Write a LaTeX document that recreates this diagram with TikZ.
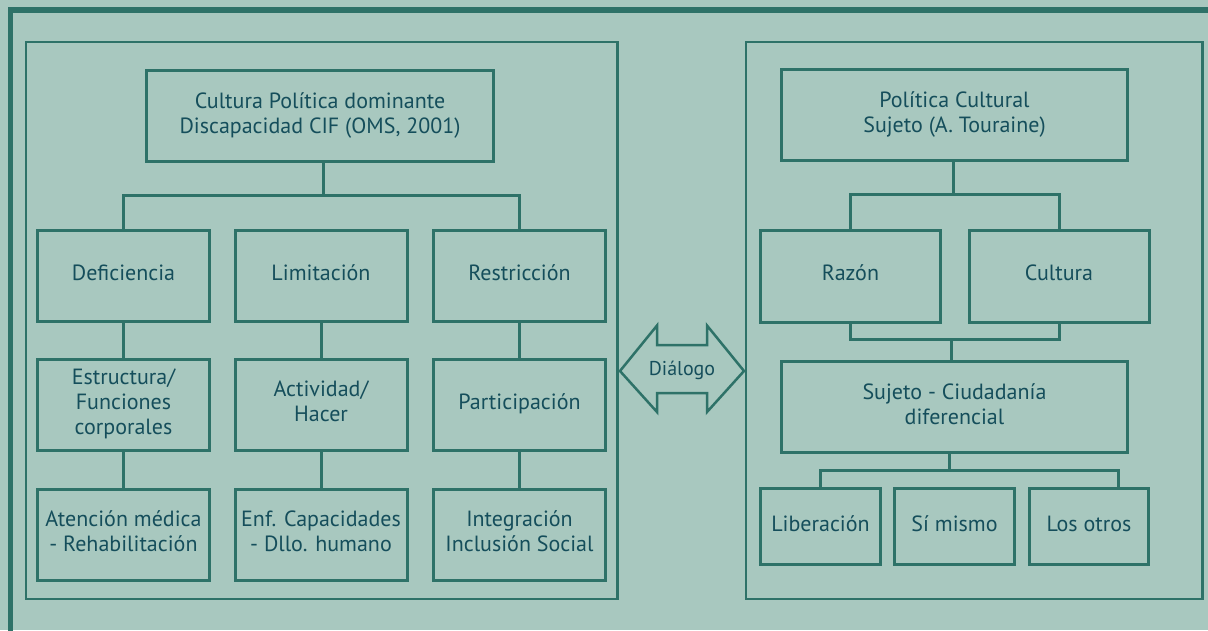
\documentclass[tikz,border=0pt]{standalone}
\usepackage{fontspec}
\setmainfont{PT Sans}
\usetikzlibrary{calc}
\definecolor{bgteal}{HTML}{A8C8BF}
\definecolor{lineteal}{HTML}{2E7268}
\definecolor{inkteal}{HTML}{154E5B}
\begin{document}
\begin{tikzpicture}[x=1pt,y=-1pt,
  box/.style={draw=lineteal,line width=3pt,rectangle,inner sep=0pt,outer sep=0pt,
    align=center,text=inkteal,font=\fontsize{22}{25}\selectfont,text depth=6pt,
    minimum width=172pt,minimum height=91pt},
  link/.style={draw=lineteal,line width=3pt},
  panel/.style={draw=lineteal,line width=2.5pt}]
% background and frame
\fill[bgteal] (0,0) rectangle (1208,630);
\useasboundingbox (0,0) rectangle (1208,630);
\draw[lineteal,line width=5.5pt] (10.5,640) -- (10.5,10) -- (1220,10);
\draw[panel] (26,42) rectangle (617.5,599);
\draw[panel] (746,42) rectangle (1202.5,599);

% left tree
\node[box,minimum width=347pt] (cpd) at (320,116) {Cultura Política dominante\\Discapacidad CIF (OMS, 2001)};
\node[box] (def) at (123.5,275.5) {Deficiencia};
\node[box] (lim) at (321,275.5) {Limitación};
\node[box] (res) at (519.5,275.5) {Restricción};
\node[box] (est) at (123.5,404.5) {Estructura/\\Funciones\\corporales};
\node[box] (act) at (321,404.5) {Actividad/\\Hacer};
\node[box] (par) at (519.5,404.5) {Participación};
\node[box] (ate) at (123.5,534.5) {Atención médica\\- Rehabilitación};
\node[box] (enf) at (321,534.5) {Enf. Capacidades\\- Dllo. humano};
\node[box] (int) at (519.5,534.5) {Integración\\Inclusión Social};

\coordinate (barL) at (323,195);
\draw[link] (barL |- cpd.south) -- (barL);
\draw[link] (def.north) |- (barL) -| (res.north);
\draw[link] (def.south) -- (est.north);
\draw[link] (lim.south) -- (act.north);
\draw[link] (res.south) -- (par.north);
\draw[link] (est.south) -- (ate.north);
\draw[link] (act.south) -- (enf.north);
\draw[link] (par.south) -- (int.north);

% right tree
\node[box,minimum width=346pt] (pc) at (954.5,115) {Política Cultural\\Sujeto (A. Touraine)};
\node[box,minimum width=180pt,minimum height=92pt] (raz) at (850.5,276) {Razón};
\node[box,minimum width=180pt,minimum height=92pt] (cul) at (1059,276) {Cultura};
\node[box,minimum width=346pt] (suj) at (954.5,407) {Sujeto - Ciudadanía\\diferencial};
\node[box,minimum width=120pt,minimum height=76pt] (lib) at (820.5,526.5) {Liberación};
\node[box,minimum width=120pt,minimum height=76pt] (sim) at (954.5,526.5) {Sí mismo};
\node[box,minimum width=119pt,minimum height=76pt] (otr) at (1089,526.5) {Los otros};

\coordinate (barR) at (953,194);
\coordinate (barM) at (951,339);
\coordinate (barB) at (949,470);
\coordinate (otrdrop) at ($(otr.north)!0.5!(otr.north east)$);
\draw[link] (barR |- pc.south) -- (barR);
\draw[link] (raz.north) |- (barR) -| (cul.north);
\draw[link] (raz.south) |- (barM) -| (cul.south);
\draw[link] (barM) -- (barM |- suj.north);
\draw[link] (barB |- suj.south) -- (barB);
\draw[link] (lib.north) |- (barB) -| (otrdrop);

% double arrow between the two panels
\draw[lineteal,line width=2.5pt,line join=miter]
  (620,371) -- (657,325.5) -- (657,345) -- (707,345) -- (707,325.5) -- (744,371)
  -- (707,412) -- (707,393) -- (657,393) -- (657,412) -- cycle;
\node[text=inkteal,font=\fontsize{20}{24}\selectfont,inner sep=0pt] (dlg) at (682,370) {Diálogo};
\end{tikzpicture}
\end{document}
